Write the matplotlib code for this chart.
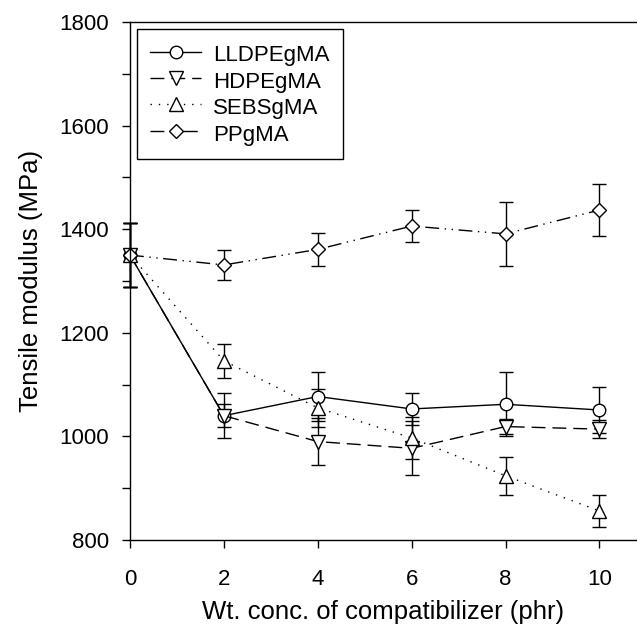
import matplotlib
matplotlib.use("Agg")
import matplotlib.pyplot as plt
from matplotlib.ticker import MultipleLocator

plt.rcParams['font.family'] = ['Liberation Sans', 'DejaVu Sans']

conc = [0, 2, 4, 6, 8, 10]
lldpe = [1350, 1040, 1077, 1053, 1062, 1051]
lldpe_err = [62, 43, 47, 31, 62, 44]
hdpe = [1350, 1040, 990, 977, 1019, 1014]
hdpe_err = [62, 22, 45, 52, 15, 18]
sebs = [1350, 1146, 1055, 997, 924, 856]
sebs_err = [62, 33, 36, 40, 37, 31]
ppgma = [1350, 1331, 1361, 1406, 1391, 1437]
ppgma_err = [62, 29, 32, 31, 62, 51]

fig = plt.figure(figsize=(6.37, 6.33), dpi=100)
ax = fig.add_axes([130/637, 1-540/633, 1-130/637, (540-22)/633])

common = dict(color='black', lw=1.0, mfc='white', mec='black', mew=1.0,
              ecolor='black', elinewidth=1.0, capsize=5, capthick=1.0)

series = [
    (lldpe, lldpe_err, 'o', 9, '-', 'LLDPEgMA'),
    (hdpe, hdpe_err, 'v', 9.5, (0, (10, 5)), 'HDPEgMA'),
    (sebs, sebs_err, '^', 9.5, (0, (1, 5)), 'SEBSgMA'),
    (ppgma, ppgma_err, 'D', 7, (0, (10, 4, 1, 4, 1, 4)), 'PPgMA'),
]
handles = []
for vals, err, mk, ms, ls, lab in series:
    eb = ax.errorbar(conc, vals, yerr=err, marker=mk, ms=ms, linestyle=ls,
                     label=lab, **common)
    line, caps, bars = eb.lines
    line.set_clip_on(False)
    for c in caps:
        c.set_clip_on(False)
    for b in bars:
        b.set_clip_on(False)
    handles.append(line)

ax.set_xlim(0, 10.8)
ax.set_ylim(800, 1800)
ax.xaxis.set_major_locator(MultipleLocator(2))
ax.yaxis.set_major_locator(MultipleLocator(200))
ax.yaxis.set_minor_locator(MultipleLocator(100))
ax.spines['right'].set_visible(False)
for s in ['left', 'bottom', 'top']:
    ax.spines[s].set_linewidth(1.0)
ax.tick_params(axis='both', which='both', direction='out', length=6, width=1.0,
               labelsize=16, top=False, right=False)
ax.tick_params(axis='x', pad=15)
ax.tick_params(axis='y', pad=9)

ax.set_xlabel('Wt. conc. of compatibilizer (phr)', fontsize=18.5, labelpad=7)
ax.set_ylabel('Tensile modulus (MPa)', fontsize=18.5, labelpad=12)

leg = ax.legend(handles=handles, labels=[s[5] for s in series],
                loc='upper left', fontsize=16, frameon=True, fancybox=False,
                edgecolor='black', framealpha=1, handlelength=2.3,
                handleheight=1.25, borderaxespad=0.3, labelspacing=0.1,
                handletextpad=0.55, borderpad=0.6)
leg.get_frame().set_linewidth(1.0)

fig.savefig('out.png', dpi=100)
